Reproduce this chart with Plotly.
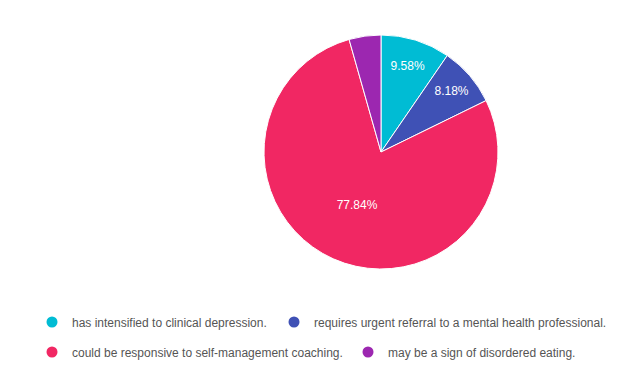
import plotly.graph_objects as go

labels = [
    "has intensified to clinical depression.",
    "requires urgent referral to a mental health professional.",
    "could be responsive to self-management coaching.",
    "may be a sign of disordered eating.",
]
values = [9.58, 8.18, 77.84, 4.40]
colors = ["#00BCD4", "#3F51B5", "#F12763", "#9C27B0"]
show_text = [True, True, True, False]
legend_ids = ["legend", "legend2", "legend3", "legend4"]
# legend symbol centres (px) in the reference
legend_pos = [(52, 322), (294, 322), (52, 352), (368, 352)]

W, H = 630, 372
cx, cy, r = 381, 152, 117

fig = go.Figure()
fig.add_trace(go.Pie(
    labels=labels,
    values=values,
    sort=False,
    direction="clockwise",
    rotation=0,
    marker=dict(colors=colors, line=dict(color="white", width=1)),
    texttemplate=["%{percent:.2%}" if s else "" for s in show_text],
    textposition="inside",
    insidetextorientation="horizontal",
    textfont=dict(color="white", size=12, family="Liberation Sans, Arial, sans-serif"),
    hoverinfo="label+percent",
    showlegend=False,
    domain=dict(x=[(cx - r) / W, (cx + r) / W], y=[1 - (cy + r) / H, 1 - (cy - r) / H]),
))

for lab, col, lg in zip(labels, colors, legend_ids):
    fig.add_trace(go.Scatter(
        x=[None], y=[None], mode="markers", name=lab,
        marker=dict(color=col, size=11, symbol="circle"),
        legend=lg, showlegend=True,
    ))

legend_style = dict(
    orientation="h", xanchor="left", yanchor="middle",
    font=dict(family="Liberation Sans, Arial, sans-serif", size=12, color="#555555"),
    bgcolor="rgba(0,0,0,0)", itemclick=False, itemdoubleclick=False,
)

legends = {}
for lg, (px, py) in zip(legend_ids, legend_pos):
    legends[lg] = dict(x=(px - 20) / W, y=1 - py / H, **legend_style)

fig.update_layout(
    width=W, height=H,
    margin=dict(l=0, r=0, t=0, b=0),
    paper_bgcolor="white", plot_bgcolor="white",
    xaxis=dict(visible=False), yaxis=dict(visible=False),
    **legends,
)

fig.write_html(
    "out.html",
    config={"displayModeBar": False},
    post_script="document.body.style.margin='0';document.body.style.overflow='hidden';",
)
